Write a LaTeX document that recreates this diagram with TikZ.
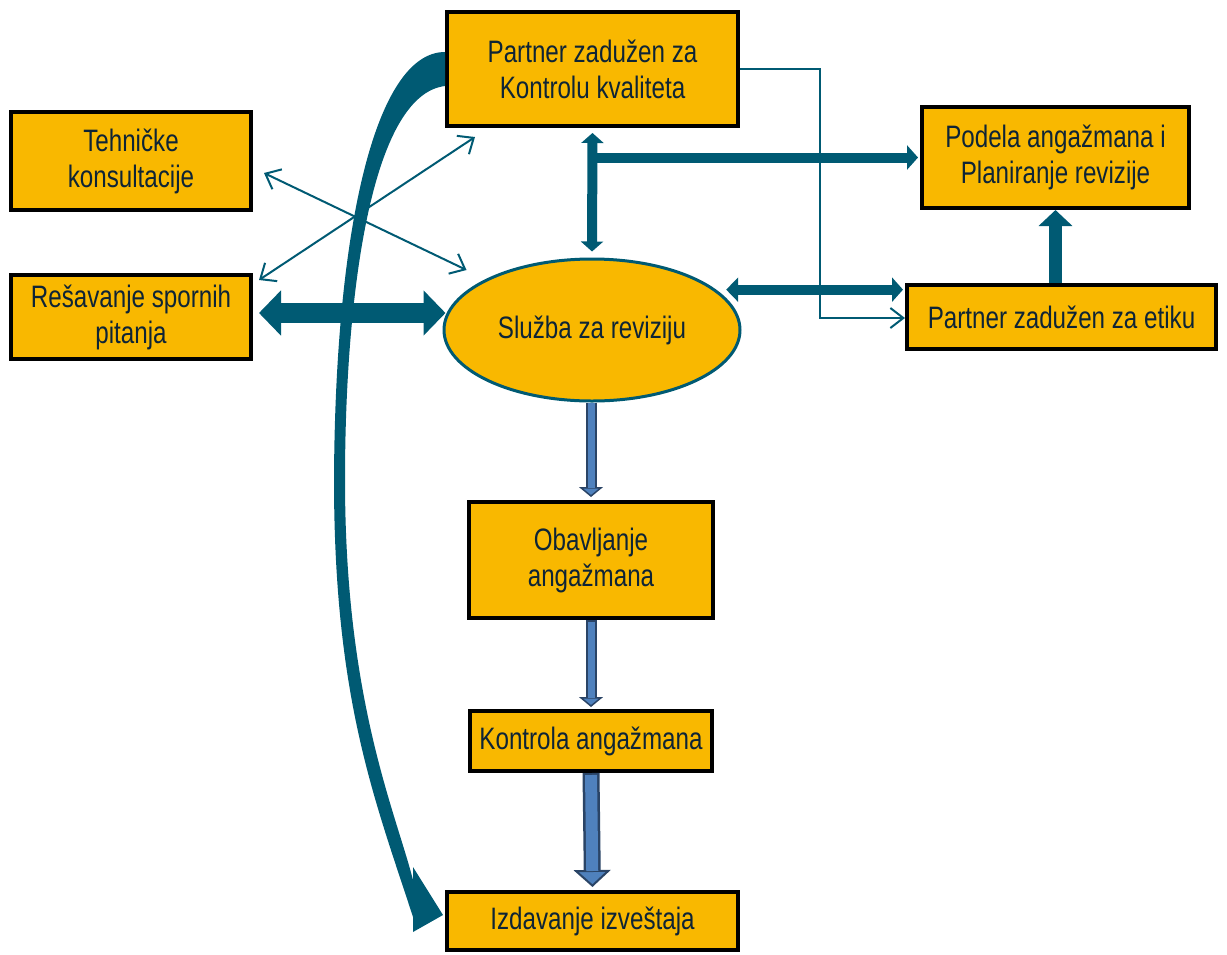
\documentclass[tikz,border=0pt]{standalone}
\usepackage{fontspec}
\setmainfont[FakeStretch=0.78]{Liberation Sans}
\usetikzlibrary{arrows.meta,calc,shapes.geometric}
\definecolor{gold}{HTML}{F9B800}
\definecolor{petrol}{HTML}{005A73}
\definecolor{ink}{HTML}{0E2436}
\definecolor{lblue}{HTML}{4F81BD}
\definecolor{dblue}{HTML}{2A4466}
\tikzset{
  box/.style={draw=black, line width=4pt, fill=gold, text=ink, align=center,
    font=\fontsize{31}{36}\selectfont, inner sep=0pt},
  oval/.style={ellipse, draw=petrol, line width=3pt, fill=gold, text=ink,
    font=\fontsize{31}{36}\selectfont, inner sep=0pt},
  thinarr/.style={petrol, line width=2pt, {Straight Barb[length=13pt,width=22pt]}-{Straight Barb[length=13pt,width=22pt]}},
}
\begin{document}
\begin{tikzpicture}[x=1pt,y=-1pt]
  \useasboundingbox (0,0) rectangle (1227,954);
  \node[box, minimum width=291pt, minimum height=114pt] (qc) at (592.5,69) {Partner zadužen za\\Kontrolu kvaliteta};
  \node[box, minimum width=240pt, minimum height=98pt] (tech) at (131,161) {Tehničke\\konsultacije};
  \node[box, minimum width=240pt, minimum height=84pt] (spor) at (131,317) {Rešavanje spornih\\pitanja};
  \node[box, minimum width=267pt, minimum height=101pt] (pod) at (1055.5,157.5) {Podela angažmana i\\Planiranje revizije};
  \node[box, minimum width=309pt, minimum height=64pt] (etik) at (1061.5,317) {Partner zadužen za etiku};
  \node[oval, minimum width=296pt, minimum height=142pt] (sluz) at (592,330) {Služba za reviziju};
  \node[box, minimum width=244pt, minimum height=116pt] (obav) at (591,560) {Obavljanje\\angažmana};
  \node[box, minimum width=242pt, minimum height=60pt] (kont) at (591,741) {Kontrola angažmana};
  \node[box, minimum width=291pt, minimum height=58pt] (izd) at (592.5,921) {Izdavanje izveštaja};

  % veze oko kontrole kvaliteta
  \draw[petrol, line width=10pt, {Triangle[length=10pt,width=22pt]}-{Triangle[length=10pt,width=22pt]},
    shorten <=5pt, shorten >=6pt] (qc.south) -- (sluz.north);
  \draw[petrol, line width=10pt, -{Triangle[length=11pt,width=24pt]}, shorten >=2pt] (qc.south |- pod.west) -- (pod.west);
  \draw[petrol, line width=2pt, -{Straight Barb[length=13pt,width=20pt]}] (qc.east) -- ++(80,0) |- ($(etik.west)+(0,1)$);
  \draw[petrol, line width=10pt, {Triangle[length=12pt,width=24pt]}-{Triangle[length=11pt,width=24pt]},
    shorten <=10pt, shorten >=2pt] (sluz.18) -- (etik.west |- sluz.18);
  \draw[petrol, line width=13pt, -{Triangle[length=16pt,width=33pt]}] (pod.south |- etik.north) -- (pod.south);

  % levo
  \draw[thinarr] ($(tech.east)+(11,12)$) -- ($(sluz.west)+(24,-60)$);
  \draw[thinarr] ($(spor.north east)+(6,7)$) -- ($(qc.south west)+(30,9)$);
  \draw[petrol, line width=20pt, {Triangle[length=22pt,width=44pt]}-{Triangle[length=22pt,width=44pt]}]
    ($(spor.east)+(6,-4)$) -- ($(sluz.west)+(3,-17)$);

  % luk do izdavanja izvestaja
  \fill[petrol] ($(qc.west)+(0,-17)$) .. controls (375,52) and (335,230) .. (334,480)
    .. controls (334,700) and (375,800) .. (413,917) -- (413,932) -- ($(izd.west)+(-2,-6)$)
    -- (413,867) -- (413,880) .. controls (395,810) and (345,700) .. (345,480)
    .. controls (345,300) and (370,95) .. ($(qc.west)+(0,17)$) -- cycle;

  % tok angazmana
  \draw[dblue, line width=11pt, -{Triangle[length=10pt,width=24pt,fill=lblue,line width=1.5pt]}, shorten >=3pt]
    (obav.north |- sluz.south) -- (obav.north);
  \draw[lblue, line width=7pt, shorten >=12pt] (obav.north |- sluz.south) -- (obav.north);
  \draw[dblue, line width=11pt, -{Triangle[length=10pt,width=24pt,fill=lblue,line width=1.5pt]}, shorten >=2pt]
    (obav.south) -- (kont.north);
  \draw[lblue, line width=7pt, shorten >=11pt, shorten <=2pt] (obav.south) -- (kont.north);
  \draw[dblue, line width=17pt, -{Triangle[length=17pt,width=37pt,fill=lblue,line width=2pt]}, shorten >=3pt]
    (kont.south) -- (izd.north);
  \draw[lblue, line width=12pt, shorten >=19pt, shorten <=2pt] (kont.south) -- (izd.north);
\end{tikzpicture}
\end{document}
